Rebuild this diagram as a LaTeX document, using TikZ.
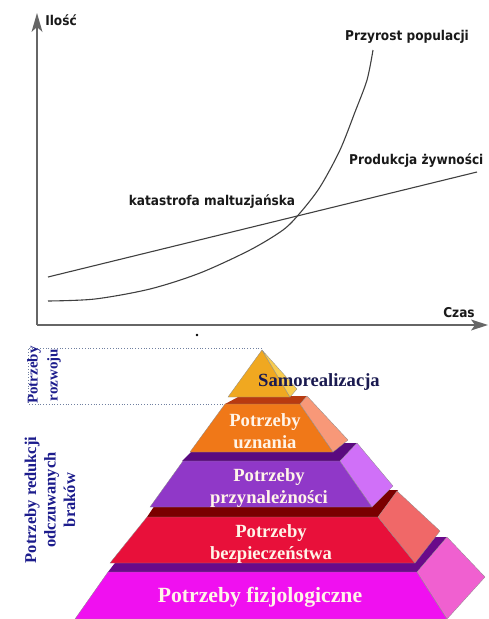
\documentclass[tikz,border=0pt]{standalone}
\usepackage{fontspec}
\setmainfont{Liberation Serif}
\newfontfamily\chartfont{DejaVu Sans Condensed}
\usetikzlibrary{calc}

\definecolor{capfront}{HTML}{F0A820}
\definecolor{capside}{HTML}{F8CC50}
\definecolor{shelfA}{HTML}{B83A10}
\definecolor{estfront}{HTML}{F07818}
\definecolor{estside}{HTML}{F89878}
\definecolor{shelfB}{HTML}{5A0A80}
\definecolor{belfront}{HTML}{9038C8}
\definecolor{belside}{HTML}{D070F8}
\definecolor{shelfC}{HTML}{7A0000}
\definecolor{safefront}{HTML}{E8103A}
\definecolor{safeside}{HTML}{F06868}
\definecolor{shelfD}{HTML}{6A0A8A}
\definecolor{physfront}{HTML}{F010F0}
\definecolor{physside}{HTML}{F060D0}
\definecolor{cream}{HTML}{FFF4E8}
\definecolor{navy}{HTML}{1C1C8C}
\definecolor{darknavy}{HTML}{1A1A50}
\definecolor{boxline}{HTML}{7080A0}

\begin{document}
\begin{tikzpicture}[x=1pt,y=-1pt,
  axis/.style={draw=black!60, line width=1.4pt},
  tip/.style={fill=black!60},
  curve/.style={draw=black!75, line width=1.1pt},
  lbl/.style={font=\chartfont\bfseries\fontsize{13.5}{15}\selectfont, text=black!90, inner sep=0pt},
  face/.style={draw=black!45, line width=0.3pt},
  lvl/.style={font=\bfseries\fontsize{18.6}{22}\selectfont, text=cream, align=center, inner sep=0pt},
  grp/.style={font=\bfseries\fontsize{16.5}{19.5}\selectfont, text=navy, align=center, rotate=90, inner sep=0pt}]

\useasboundingbox (0,0) rectangle (488,619);

% wykres
\coordinate (O) at (37,325);
\coordinate (ytop) at (37,13);
\coordinate (xend) at (488,325);
\draw[axis] (O) -- ($(ytop)+(0,10)$);
\draw[axis] (O) -- ($(xend)+(-10,0)$);
\fill[tip] (ytop) -- ++(-5.5,19) -- ++(5.5,-5) -- ++(5.5,5) -- cycle;
\fill[tip] (xend) -- ++(-17,-5.5) -- ++(4,5.5) -- ++(-4,5.5) -- cycle;

\draw[curve] (48,277) -- (477,172);
\draw[curve] plot[smooth] coordinates {(48,301) (95,299) (150,289) (200,273) (250,250) (283,230) (300,213) (320,187) (340,150) (355,112) (367,80) (373,50)};

\node[lbl] (ilosc) at (61,20) {Ilość};
\node[lbl] (pop) at (407,37) {Przyrost populacji};
\node[lbl,anchor=west] (food) at (349,161) {Produkcja żywności};
\node[lbl] (kat) at (212,202) {katastrofa maltuzjańska};
\node[lbl] (czas) at (459,313) {Czas};

\fill (197,335) circle (1.3);

% piramida
\draw[boxline, dotted, line width=0.8pt] (262,348) -- (28,348) -- (28,404) -- (228,404);

\fill[shelfA] (240,396) -- (307,396) -- (300,404) -- (225,404) -- cycle;
\fill[shelfB] (200,443) -- (357,443) -- (340,461) -- (182,461) -- cycle;
\fill[shelfC] (165,490) -- (398,490) -- (378,517) -- (147,517) -- cycle;
\fill[shelfD] (135,537) -- (447,537) -- (417,572) -- (108,572) -- cycle;

\draw[face, fill=capfront] (262,350) -- (290,397) -- (228,397) -- cycle;
\draw[face, fill=capside] (262,350) -- (297,389) -- (290,397) -- cycle;

\draw[face, fill=estfront] (225,404) -- (300,404) -- (333,452) -- (190,452) -- cycle;
\draw[face, fill=estside] (300,404) -- (307,396) -- (348,440) -- (333,452) -- cycle;

\draw[face, fill=belfront] (183,461) -- (340,461) -- (372,507) -- (150,507) -- cycle;
\draw[face, fill=belside] (340,461) -- (357,443) -- (393,486) -- (372,507) -- cycle;

\draw[face, fill=safefront] (147,517) -- (378,517) -- (415,563) -- (110,563) -- cycle;
\draw[face, fill=safeside] (378,517) -- (397,491) -- (440,531) -- (415,563) -- cycle;

\draw[face, fill=physfront] (108,572) -- (417,572) -- (447,619) -- (75,619) -- cycle;
\draw[face, fill=physside] (417,572) -- (447,537) -- (485,577) -- (447,619) -- cycle;

\node[lvl, text=darknavy] (self) at (319,382) {Samorealizacja};
\node[lvl] (esteem) at (265,431) {Potrzeby\\uznania};
\node[lvl] (belong) at (269,488) {Potrzeby\\przynależności};
\node[lvl] (safety) at (271,544) {Potrzeby\\bezpieczeństwa};
\node[lvl, font=\bfseries\fontsize{21.7}{25}\selectfont] (phys) at (260,597) {Potrzeby fizjologiczne};

\node[grp, font=\bfseries\fontsize{15}{20}\selectfont] (growth) at (44,375) {Potrzeby\\rozwoju};
\node[grp] (deficit) at (50,500) {Potrzeby redukcji\\odczuwanych\\braków};

\end{tikzpicture}
\end{document}
